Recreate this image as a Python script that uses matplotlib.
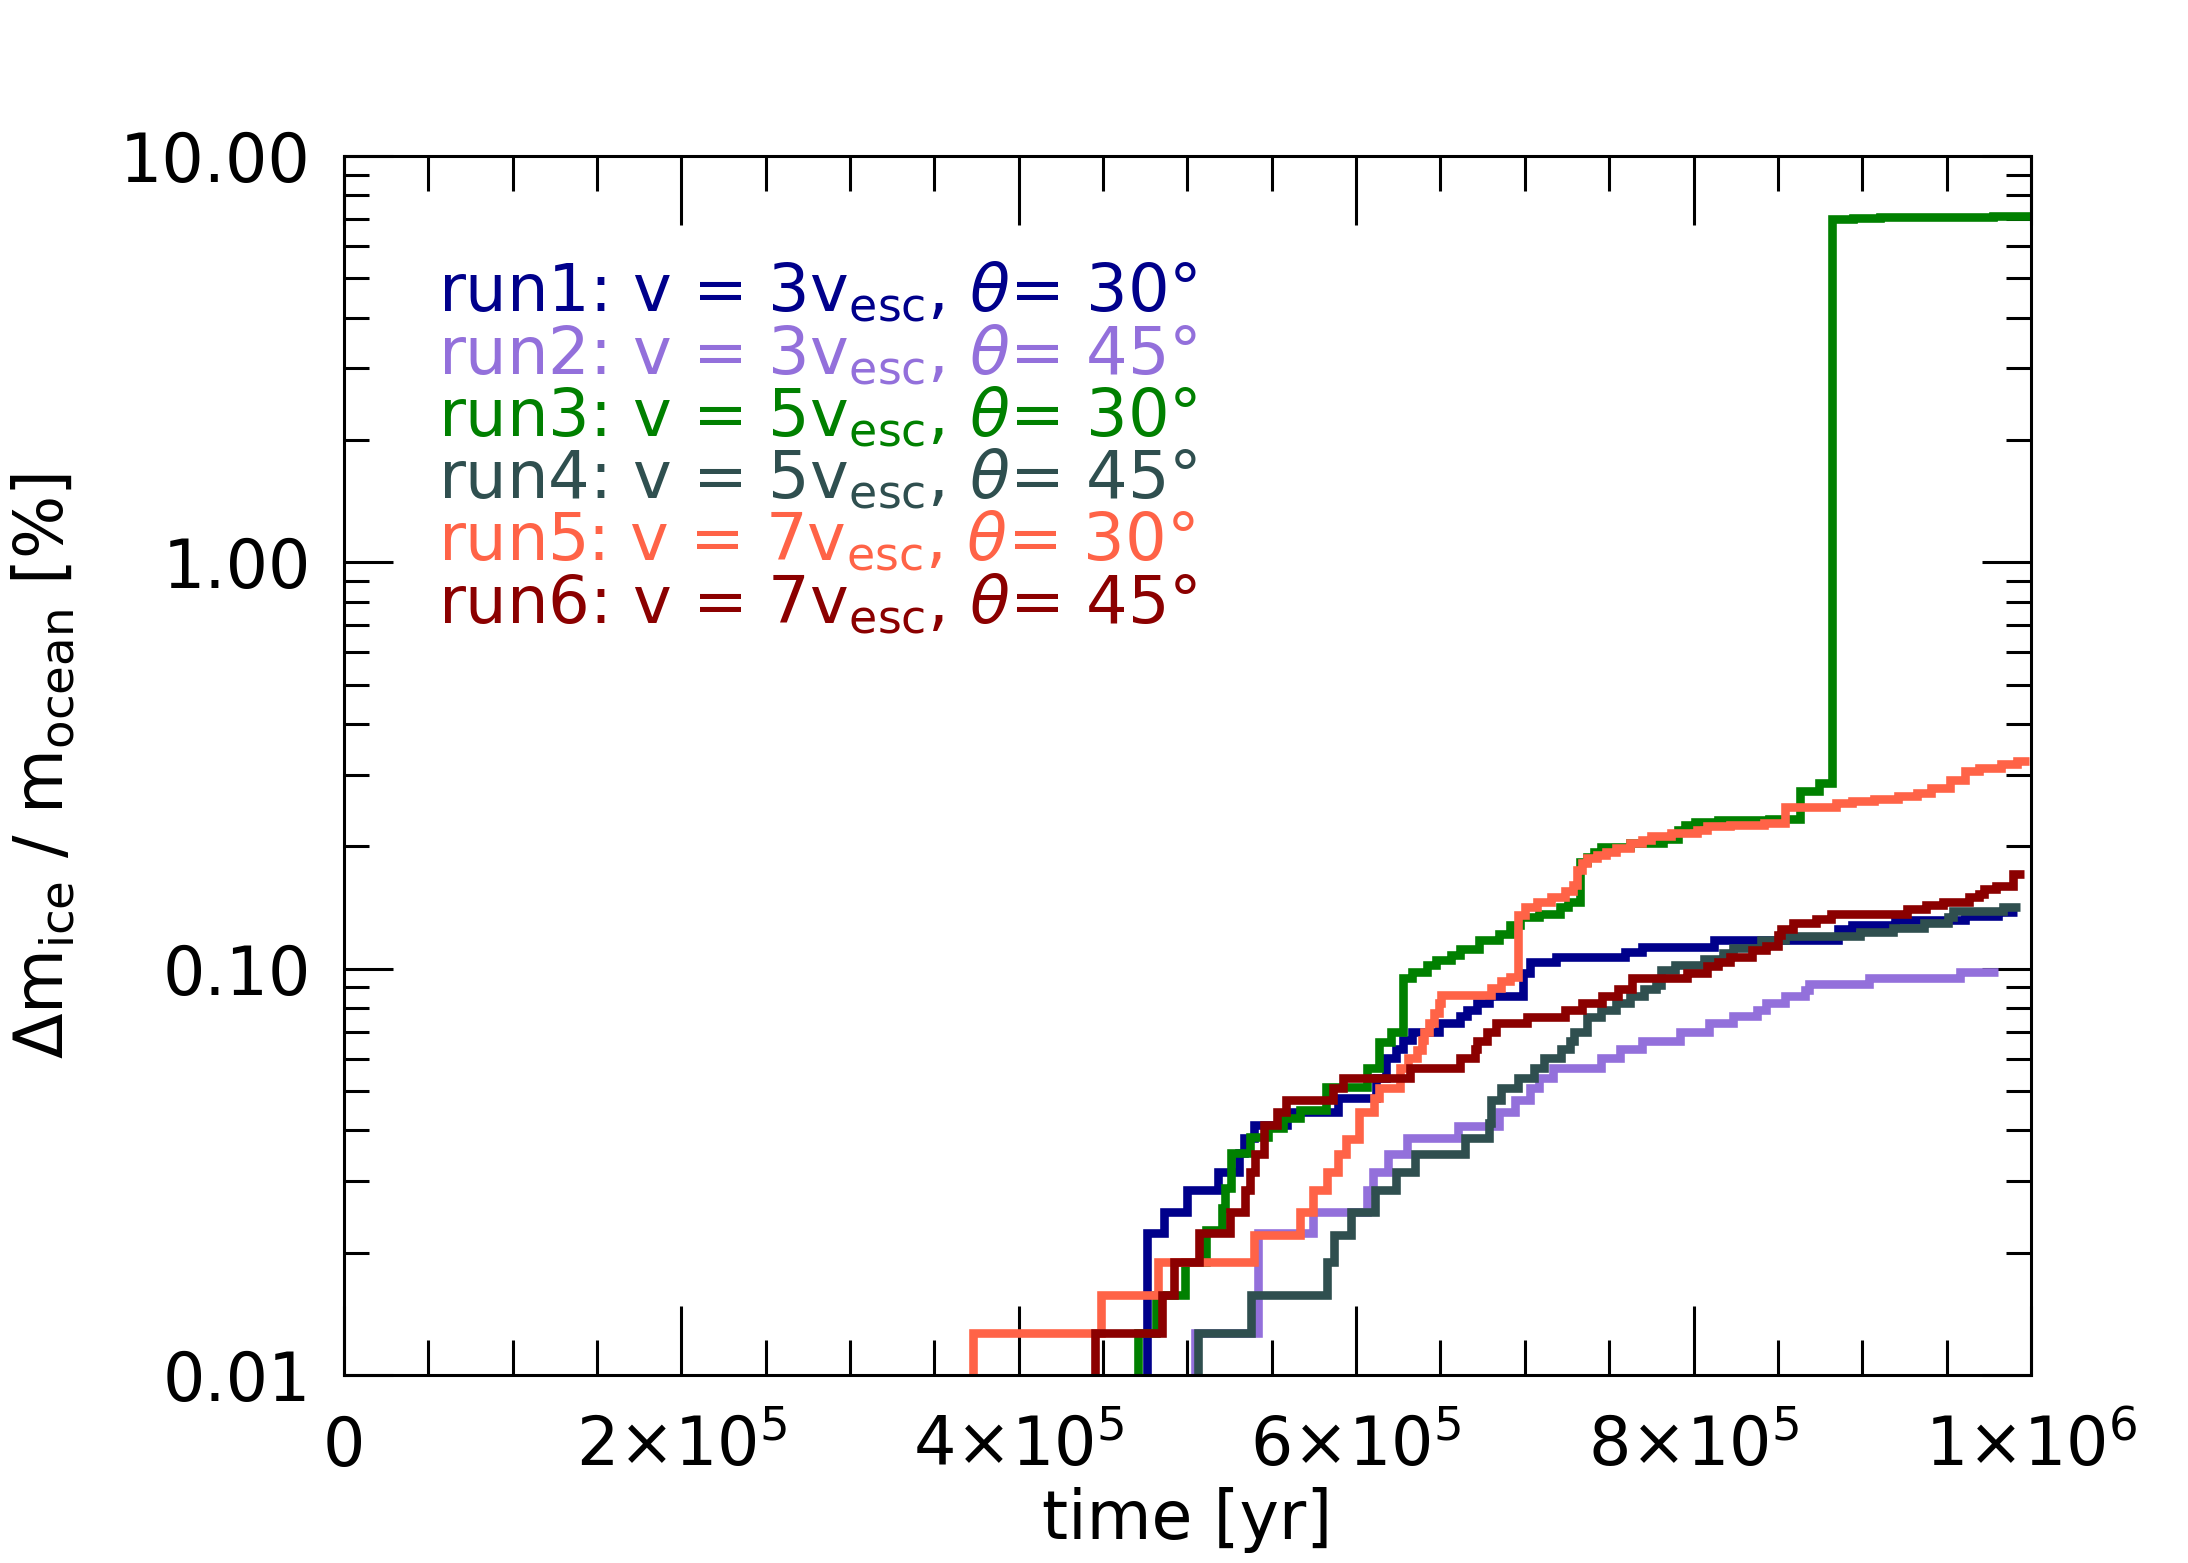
import numpy as np
import matplotlib
matplotlib.use("Agg")
import matplotlib.pyplot as plt
from matplotlib.ticker import FixedLocator, FixedFormatter, NullFormatter

#%% --- Data ---
# times [yr] at which the cumulative ice loss steps to the given value [%]

t_run1 = [476.0e3, 486.2e3, 499.8e3, 517.9e3, 530.4e3, 533.8e3, 539.5e3, 558.8e3,
          589.4e3, 612.0e3, 617.7e3, 623.4e3, 627.7e3, 633.3e3, 648.9e3, 661.7e3,
          666.0e3, 671.6e3, 678.7e3, 699.0e3, 702.8e3, 718.4e3, 759.5e3, 769.4e3,
          811.9e3, 885.6e3, 894.0e3, 919.6e3, 960.8e3, 980.6e3, 992.0e3]
v_run1 = [0.0223, 0.0252, 0.0285, 0.0316, 0.0351, 0.0382, 0.0412, 0.0445,
          0.048, 0.0537, 0.0602, 0.0633, 0.0667, 0.070, 0.0733, 0.0763,
          0.079, 0.0822, 0.0857, 0.0974, 0.104, 0.107, 0.110, 0.1133,
          0.1177, 0.125, 0.128, 0.1315, 0.135, 0.138, 0.138]

t_run2 = [504.3e3, 541.8e3, 574.7e3, 606.5e3, 609.8e3, 619.0e3, 630.3e3, 660.3e3,
          684.4e3, 694.3e3, 702.8e3, 708.5e3, 717.0e3, 745.3e3, 756.6e3, 769.4e3,
          792.1e3, 809.1e3, 823.3e3, 837.4e3, 843.1e3, 854.5e3, 865.8e3, 868.6e3,
          904.1e3, 957.9e3, 980.6e3]
v_run2 = [0.0127, 0.0223, 0.0252, 0.0285, 0.0315, 0.0349, 0.0382, 0.041,
          0.0445, 0.0475, 0.0508, 0.0537, 0.0569, 0.0602, 0.0633, 0.0665,
          0.0697, 0.0733, 0.0763, 0.0791, 0.0822, 0.0857, 0.0887, 0.0917,
          0.0947, 0.098, 0.098]

t_run3 = [470.7e3, 481.6e3, 498.6e3, 511.1e3, 520.2e3, 522.5e3, 525.9e3, 537.2e3,
          548.0e3, 556.5e3, 566.7e3, 582.3e3, 606.4e3, 613.5e3, 620.6e3, 627.7e3,
          633.3e3, 641.8e3, 647.5e3, 656.0e3, 661.7e3, 673.0e3, 684.4e3, 691.4e3,
          697.0e3, 708.5e3, 721.0e3, 725.5e3, 732.5e3, 736.8e3, 741.0e3, 745.3e3,
          762.3e3, 782.0e3, 790.7e3, 795.0e3, 800.6e3, 814.8e3, 844.5e3, 863.0e3,
          874.3e3, 882.2e3, 894.7e3, 910.5e3, 977.7e3, 1000.0e3]
v_run3 = [0.0127, 0.01574, 0.019, 0.02275, 0.0257, 0.0288, 0.0351, 0.0385,
          0.0405, 0.0428, 0.0449, 0.0512, 0.0569, 0.0661, 0.070, 0.0947,
          0.0983, 0.102, 0.105, 0.108, 0.112, 0.1177, 0.122, 0.128,
          0.134, 0.136, 0.142, 0.146, 0.183, 0.188, 0.1935, 0.1995,
          0.2035, 0.208, 0.2195, 0.226, 0.230, 0.2325, 0.234, 0.2735,
          0.286, 7.0, 7.055, 7.095, 7.135, 7.135]

t_run4 = [506.1e3, 537.9e3, 582.6e3, 587.1e3, 596.7e3, 611.0e3, 623.9e3, 634.8e3,
          664.3e3, 678.7e3, 680.1e3, 685.8e3, 695.7e3, 705.6e3, 711.3e3, 721.2e3,
          726.9e3, 728.9e3, 736.8e3, 745.3e3, 753.8e3, 762.3e3, 770.8e3, 777.9e3,
          780.7e3, 789.2e3, 806.3e3, 817.6e3, 823.3e3, 840.3e3, 854.5e3, 898.4e3,
          918.2e3, 936.7e3, 950.8e3, 953.7e3, 983.4e3, 993.4e3]
v_run4 = [0.0127, 0.01574, 0.019, 0.0221, 0.0252, 0.0285, 0.0315, 0.0349,
          0.0382, 0.0416, 0.0475, 0.0508, 0.0537, 0.0569, 0.0602, 0.0633,
          0.0665, 0.0697, 0.0759, 0.0791, 0.0822, 0.0857, 0.089, 0.0912,
          0.0993, 0.1021, 0.1055, 0.109, 0.1122, 0.1177, 0.120, 0.1229,
          0.1257, 0.1293, 0.1343, 0.139, 0.142, 0.142]

t_run5 = [372.7e3, 448.7e3, 482.8e3, 539.5e3, 566.7e3, 574.7e3, 582.6e3, 589.4e3,
          594.0e3, 602.0e3, 610.6e3, 613.5e3, 626.2e3, 630.5e3, 636.0e3, 639.0e3,
          640.4e3, 643.2e3, 646.0e3, 649.0e3, 650.3e3, 680.1e3, 685.8e3, 691.4e3,
          695.7e3, 700.0e3, 707.0e3, 715.5e3, 724.0e3, 728.3e3, 731.0e3, 734.0e3,
          736.8e3, 742.5e3, 748.0e3, 753.8e3, 762.3e3, 769.4e3, 775.0e3, 786.4e3,
          802.0e3, 807.7e3, 821.9e3, 841.7e3, 854.5e3, 884.2e3, 894.0e3, 906.9e3,
          921.0e3, 932.4e3, 940.9e3, 952.3e3, 960.8e3, 969.3e3, 982.0e3, 992.0e3,
          999.0e3]
v_run5 = [0.0127, 0.01574, 0.019, 0.0221, 0.0252, 0.0285, 0.0315, 0.0349,
          0.038, 0.0445, 0.048, 0.0508, 0.0569, 0.0602, 0.0631, 0.0667,
          0.070, 0.0733, 0.0777, 0.0822, 0.0861, 0.0895, 0.093, 0.0955,
          0.1356, 0.142, 0.146, 0.150, 0.155, 0.161, 0.175, 0.1817,
          0.187, 0.1905, 0.1935, 0.198, 0.2035, 0.2075, 0.2115, 0.2155,
          0.2195, 0.224, 0.226, 0.228, 0.250, 0.255, 0.258, 0.262,
          0.2655, 0.2705, 0.278, 0.2915, 0.3057, 0.312, 0.318, 0.3237,
          0.3237]

t_run6 = [445.3e3, 485.0e3, 491.8e3, 506.6e3, 525.2e3, 534.3e3, 537.2e3, 540.2e3,
          545.2e3, 553.1e3, 558.3e3, 586.5e3, 592.2e3, 631.9e3, 661.7e3, 670.2e3,
          671.6e3, 677.3e3, 682.9e3, 701.4e3, 724.0e3, 734.0e3, 745.9e3, 755.2e3,
          763.7e3, 796.3e3, 807.7e3, 814.8e3, 821.9e3, 834.6e3, 843.1e3, 850.2e3,
          851.6e3, 858.7e3, 872.9e3, 881.4e3, 926.7e3, 938.1e3, 948.0e3, 963.6e3,
          969.3e3, 972.1e3, 979.2e3, 989.1e3, 996.2e3]
v_run6 = [0.0127, 0.01574, 0.019, 0.0223, 0.0252, 0.0285, 0.0315, 0.0349,
          0.0412, 0.0445, 0.0475, 0.0508, 0.0537, 0.0569, 0.0602, 0.0633,
          0.0665, 0.0697, 0.0733, 0.0759, 0.0791, 0.0822, 0.0857, 0.089,
          0.0947, 0.0975, 0.1013, 0.104, 0.107, 0.111, 0.114, 0.121,
          0.125, 0.1293, 0.1325, 0.1365, 0.140, 0.1435, 0.146, 0.150,
          0.153, 0.157, 0.160, 0.171, 0.171]

run_names = ["run1", "run2", "run3", "run4", "run5", "run6"]
run_speed = [3, 3, 5, 5, 7, 7]
run_angle = [30, 45, 30, 45, 30, 45]
run_colors = ["darkblue", "mediumpurple", "green", "darkslategray", "tomato", "darkred"]

all_t = [t_run1, t_run2, t_run3, t_run4, t_run5, t_run6]
all_v = [v_run1, v_run2, v_run3, v_run4, v_run5, v_run6]

x_major = [0, 2e5, 4e5, 6e5, 8e5, 1e6]
x_labels = ["0", "2×10$^{5}$", "4×10$^{5}$", "6×10$^{5}$", "8×10$^{5}$", "1×10$^{6}$"]
y_major = [0.01, 0.1, 1.0, 10.0]
y_labels = ["0.01", "0.10", "1.00", "10.00"]

#%% --- Figure ---
plt.rcParams["font.family"] = "DejaVu Sans"
plt.rcParams["mathtext.fontset"] = "dejavusans"

fig = plt.figure(figsize=(10.94, 7.815), dpi=200)
ax = fig.add_axes([0.1572, 0.1203, 0.7710, 0.7799])

for t, v, c in zip(all_t, all_v, run_colors):
    # start each curve from below the axis so the first step rises from the bottom
    tt = [t[0]] + list(t)
    vv = [1e-3] + list(v)
    ax.plot(tt, vv, drawstyle="steps-post", color=c, lw=3.1,
            solid_joinstyle="miter", solid_capstyle="butt")

ax.set_yscale("log")
ax.set_xlim(0, 1e6)
ax.set_ylim(0.01, 10)

# --- ticks ---
ax.xaxis.set_major_locator(FixedLocator(x_major))
ax.xaxis.set_major_formatter(FixedFormatter(x_labels))
ax.xaxis.set_minor_locator(FixedLocator(np.arange(0, 1e6 + 1, 5e4)))
ax.yaxis.set_major_locator(FixedLocator(y_major))
ax.yaxis.set_major_formatter(FixedFormatter(y_labels))
y_minor = [m * 10.0 ** e for e in (-2, -1, 0) for m in range(2, 10)]
ax.yaxis.set_minor_locator(FixedLocator(y_minor))
ax.yaxis.set_minor_formatter(NullFormatter())

ax.tick_params(axis="both", which="both", direction="in", top=True, right=True,
               width=1.1, labelsize=24, color="black")
ax.tick_params(axis="x", which="major", length=24.8, pad=14)
ax.tick_params(axis="x", which="minor", length=12.6)
ax.tick_params(axis="y", which="major", length=17.6, pad=12)
ax.tick_params(axis="y", which="minor", length=9)

for s in ax.spines.values():
    s.set_linewidth(1.1)

# --- axis labels ---
ax.set_xlabel("time [yr]", fontsize=24)
ax.xaxis.set_label_coords(0.5, -0.092)
ax.set_ylabel(r"$\Delta$m$_{\rm ice}$ / m$_{\rm ocean}$ [%]", fontsize=24)
ax.yaxis.set_label_coords(-0.158, 0.5)

# --- coloured run labels ---
for i, (name, sp, ang, c) in enumerate(zip(run_names, run_speed, run_angle, run_colors)):
    label = name + ": v = " + str(sp) + r"v$_{\rm esc}$, $\theta$= " + str(ang) + "°"
    ax.text(0.056, 0.872 - i * 0.0511, label, transform=ax.transAxes,
            color=c, fontsize=23.6, ha="left", va="baseline")

fig.savefig("out.png", dpi=200)
